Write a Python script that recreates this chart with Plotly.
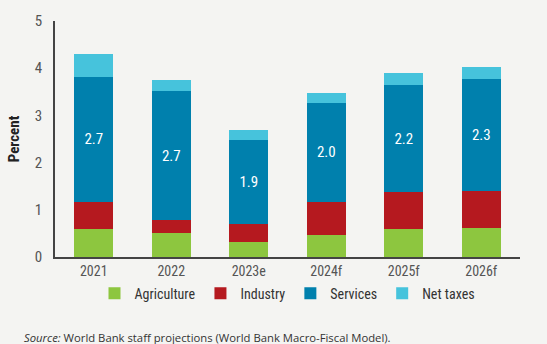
import plotly.graph_objects as go

years = ["2021", "2022", "2023e", "2024f", "2025f", "2026f"]
agriculture = [0.59, 0.51, 0.31, 0.46, 0.59, 0.62]
industry = [0.58, 0.27, 0.38, 0.71, 0.78, 0.77]
services = [2.65, 2.74, 1.78, 2.09, 2.27, 2.39]
net_taxes = [0.49, 0.23, 0.22, 0.21, 0.25, 0.25]
services_labels = ["2.7", "2.7", "1.9", "2.0", "2.2", "2.3"]

FONT = "Liberation Sans Narrow, Arial Narrow, Roboto Condensed, Roboto, sans-serif"
BG = "#f4f4f2"

fig = go.Figure()
fig.add_bar(x=years, y=agriculture, name="Agriculture", marker_color="#8dc63f")
fig.add_bar(x=years, y=industry, name="Industry", marker_color="#b5191f")
fig.add_bar(x=years, y=services, name="Services", marker_color="#0080ad",
            text=services_labels, textposition="inside", insidetextanchor="middle",
            textfont=dict(color="white", size=15, family=FONT), textangle=0)
fig.add_bar(x=years, y=net_taxes, name="Net taxes", marker_color="#46c3dc")

fig.update_traces(marker_line_width=0, hoverinfo="skip")

fig.update_layout(
    barmode="stack",
    bargap=0.5,
    width=547, height=344,
    margin=dict(l=44, r=27, t=19, b=87),
    paper_bgcolor=BG, plot_bgcolor=BG,
    font=dict(family=FONT, size=14, color="#555555"),
    showlegend=True,
    legend=dict(orientation="h", x=0.5, xanchor="center", y=-0.155, yanchor="middle",
                font=dict(family=FONT, size=14, color="#333333"),
                itemwidth=30, traceorder="normal", bgcolor="rgba(0,0,0,0)"),
    xaxis=dict(showline=True, linecolor="#444444", linewidth=1.5, ticks="",
               tickfont=dict(size=14, color="#555555"), showgrid=False),
    yaxis=dict(range=[0, 5], dtick=1, showline=True, linecolor="#444444", linewidth=1.5,
               showgrid=False, zeroline=False, ticks="", ticklabelstandoff=8,
               tickfont=dict(size=15, color="#555555"),
               title=dict(text="<b>Percent</b>", font=dict(size=15, color="#222222"), standoff=12)),
    annotations=[dict(
        text="<i>Source:</i> World Bank staff projections (World Bank Macro-Fiscal Model).",
        xref="paper", yref="paper", x=-0.072, y=-0.34, xanchor="left", yanchor="middle",
        showarrow=False, font=dict(family="Open Sans, sans-serif", size=11.3, color="#333333"))],
)

fig.write_html("out.html")
